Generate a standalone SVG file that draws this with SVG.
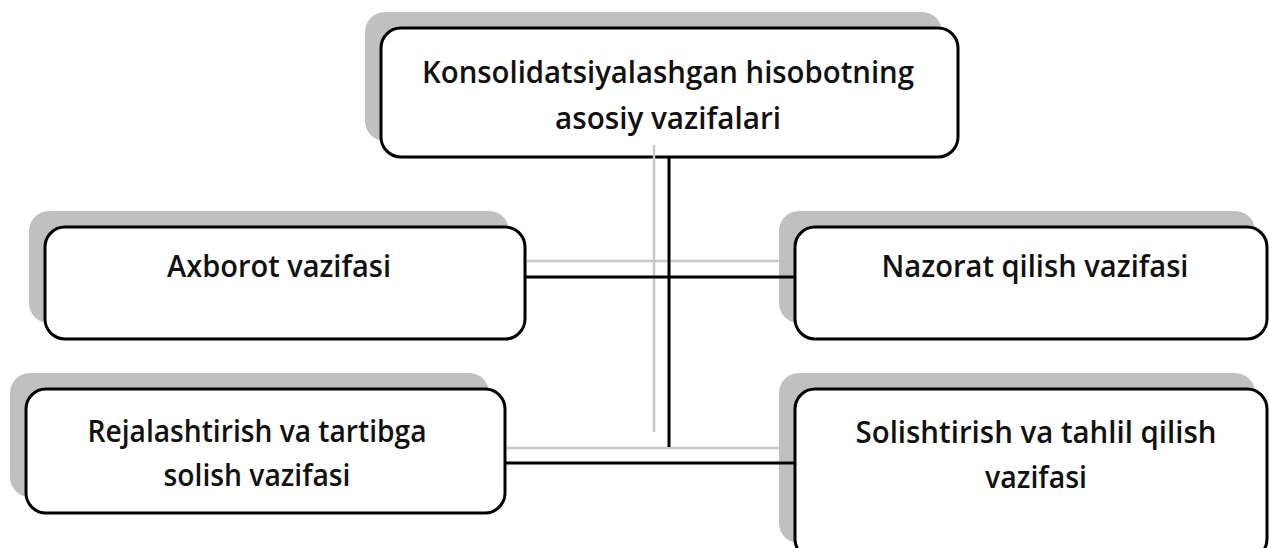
<svg xmlns="http://www.w3.org/2000/svg" width="1269" height="548" viewBox="0 0 1269 548">
<style>
.sh{fill:#c0c0c0}
.bx{fill:#fff;stroke:#000;stroke-width:3}
.t{font-family:"Open Sans","Liberation Sans",sans-serif;font-size:31px;font-weight:600;fill:#111;text-anchor:middle}
.g{stroke:#c8c8c8;stroke-width:2.5;fill:none}
.k{stroke:#000;stroke-width:3;fill:none}
</style>
<rect width="1269" height="548" fill="#fff"/>
<g id="top">
<rect class="sh" x="365" y="12" width="577" height="129" rx="20"/>
<rect class="bx" x="381" y="28" width="577" height="129" rx="20"/>
<text class="t" x="668" y="83" textLength="492" lengthAdjust="spacingAndGlyphs">Konsolidatsiyalashgan hisobotning</text>
<text class="t" x="668" y="129" textLength="226" lengthAdjust="spacingAndGlyphs">asosiy vazifalari</text>
</g>
<g id="axborot">
<rect class="sh" x="29" y="211" width="480" height="112" rx="20"/>
<rect class="bx" x="45" y="227" width="480" height="112" rx="20"/>
<text class="t" x="279" y="277" textLength="224" lengthAdjust="spacingAndGlyphs">Axborot vazifasi</text>
</g>
<g id="nazorat">
<rect class="sh" x="779" y="211" width="476" height="112" rx="20"/>
<rect class="bx" x="795" y="227" width="472" height="112" rx="20"/>
<text class="t" x="1035" y="277" textLength="307" lengthAdjust="spacingAndGlyphs">Nazorat qilish vazifasi</text>
</g>
<g id="rejalashtirish">
<rect class="sh" x="10" y="373" width="479" height="124" rx="20"/>
<rect class="bx" x="26" y="389" width="479" height="124" rx="20"/>
<text class="t" x="257" y="442" textLength="339" lengthAdjust="spacingAndGlyphs">Rejalashtirish va tartibga</text>
<text class="t" x="257" y="486" textLength="187" lengthAdjust="spacingAndGlyphs">solish vazifasi</text>
</g>
<g id="solishtirish">
<rect class="sh" x="779" y="373" width="476" height="170" rx="20"/>
<rect class="bx" x="795" y="389" width="472" height="170" rx="20"/>
<text class="t" x="1036" y="443" textLength="361" lengthAdjust="spacingAndGlyphs">Solishtirish va tahlil qilish</text>
<text class="t" x="1036" y="488" textLength="102" lengthAdjust="spacingAndGlyphs">vazifasi</text>
</g>
<g id="connectors">
<line class="g" x1="654" y1="145" x2="654" y2="432"/>
<line class="g" x1="527" y1="261" x2="779" y2="261"/>
<line class="g" x1="507" y1="448" x2="779" y2="448"/>
<line class="k" x1="669" y1="158" x2="669" y2="447"/>
<line class="k" x1="526" y1="277" x2="794" y2="277"/>
<line class="k" x1="506" y1="463" x2="794" y2="463"/>
</g>
</svg>
